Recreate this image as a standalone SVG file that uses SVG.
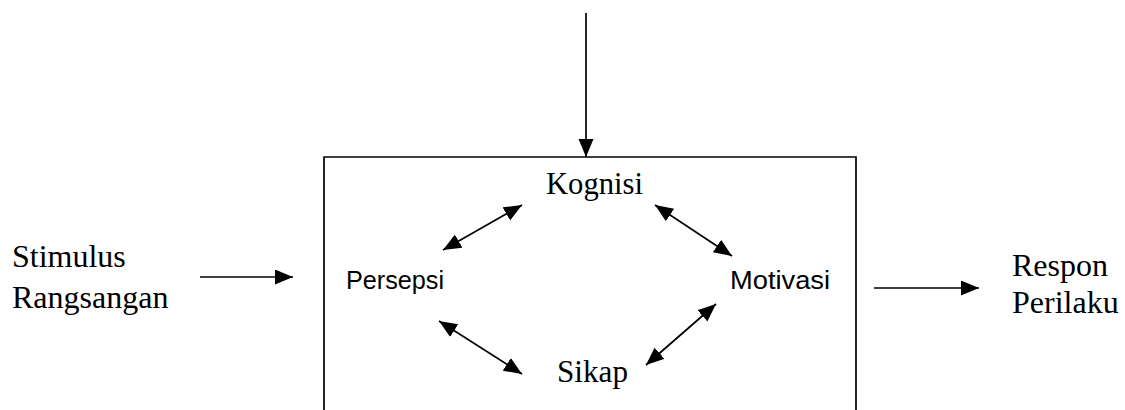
<svg xmlns="http://www.w3.org/2000/svg" width="1125" height="410" viewBox="0 0 1125 410">
<style>
.serif{font-family:"Liberation Serif","Times New Roman",serif;fill:#000}
.sans{font-family:"Liberation Sans",Arial,sans-serif;fill:#000}
.ln{stroke:#000;stroke-width:1.7;fill:none}
</style>
<defs>
<marker id="ah" markerUnits="userSpaceOnUse" markerWidth="19" markerHeight="17" refX="18" refY="7.5" orient="auto-start-reverse">
<path d="M0,0 L18,7.5 L0,15 z" fill="#000"/>
</marker>
</defs>
<rect x="0" y="0" width="1125" height="410" fill="#fff"/>
<g id="box"><path d="M324,412 L324,157 L856,157 L856,412" class="ln"/></g>
<g id="kognisi"><text class="serif" x="546" y="194" font-size="31" textLength="97" lengthAdjust="spacingAndGlyphs">Kognisi</text></g>
<g id="persepsi"><text class="sans" x="346" y="289" font-size="25" textLength="98" lengthAdjust="spacingAndGlyphs">Persepsi</text></g>
<g id="motivasi"><text class="sans" x="730" y="289" font-size="25" textLength="100" lengthAdjust="spacingAndGlyphs">Motivasi</text></g>
<g id="sikap"><text class="serif" x="557" y="382" font-size="31" textLength="71" lengthAdjust="spacingAndGlyphs">Sikap</text></g>
<g id="stimulus"><text class="serif" x="12" y="267" font-size="32">Stimulus</text><text class="serif" x="12" y="308" font-size="32">Rangsangan</text></g>
<g id="respon"><text class="serif" x="1012" y="276" font-size="32">Respon</text><text class="serif" x="1012" y="313" font-size="32">Perilaku</text></g>
<g id="connectors">
<line class="ln" x1="586" y1="13" x2="586" y2="157" marker-end="url(#ah)"/>
<line class="ln" x1="200" y1="277" x2="293" y2="277" marker-end="url(#ah)"/>
<line class="ln" x1="874" y1="288" x2="979" y2="288" marker-end="url(#ah)"/>
<line class="ln" x1="443" y1="250" x2="522" y2="205" marker-start="url(#ah)" marker-end="url(#ah)"/>
<line class="ln" x1="655" y1="205" x2="732" y2="256" marker-start="url(#ah)" marker-end="url(#ah)"/>
<line class="ln" x1="439" y1="321" x2="522" y2="374" marker-start="url(#ah)" marker-end="url(#ah)"/>
<line class="ln" x1="646" y1="365" x2="716" y2="304" marker-start="url(#ah)" marker-end="url(#ah)"/>
</g>
</svg>
